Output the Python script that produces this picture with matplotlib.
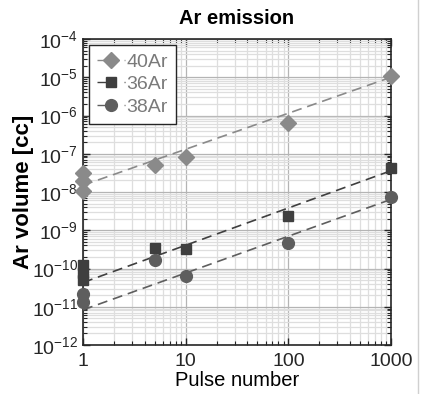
import matplotlib
matplotlib.use("Agg")
import matplotlib.pyplot as plt
from matplotlib.lines import Line2D
from matplotlib.ticker import LogLocator, NullFormatter

plt.rcParams['font.family'] = ['Liberation Sans', 'DejaVu Sans']
plt.rcParams['mathtext.default'] = 'regular'

# Data
pulse_40 = [1, 1, 1, 5, 10, 100, 1000]
vol_40 = [3.1e-8, 1.9e-8, 1.07e-8, 5.1e-8, 8.3e-8, 6.5e-7, 1.1e-5]

pulse_36 = [1, 1, 1, 5, 10, 100, 1000]
vol_36 = [1.2e-10, 7.5e-11, 4.9e-11, 3.5e-10, 3.2e-10, 2.4e-9, 4.2e-8]

pulse_38 = [1, 1, 5, 10, 100, 1000]
vol_38 = [2.2e-11, 1.36e-11, 1.66e-10, 6.3e-11, 4.7e-10, 7.3e-9]

# Fit lines (end points at pulse 1 and 1000)
fit_x = [1, 1000]
fit_40 = [1.5e-8, 1.0e-5]
fit_36 = [4.3e-11, 3.6e-8]
fit_38 = [8.3e-12, 6.4e-9]

x_ticks = [1, 10, 100, 1000]
x_ticklabels = ['1', '10', '100', '1000']
y_exponents = [-12, -11, -10, -9, -8, -7, -6, -5, -4]

labels = ['40Ar', '36Ar', '38Ar']
colors = ['#8a8a8a', '#3f3f3f', '#5e5e5e']

fig = plt.figure(figsize=(4.22, 3.94), dpi=100)
ax = fig.add_axes([83/422, 1-345/394, (391-83)/422, (345-39)/394])

ax.set_xscale('log')
ax.set_yscale('log')
ax.set_xlim(1, 1000)
ax.set_ylim(1e-12, 1e-4)

dash = (0, (6, 3.5))
ax.plot(fit_x, fit_40, ls=dash, color=colors[0], lw=1.2, zorder=3)
ax.plot(fit_x, fit_36, ls=dash, color=colors[1], lw=1.2, zorder=3)
ax.plot(fit_x, fit_38, ls=dash, color=colors[2], lw=1.2, zorder=3)

ax.plot(pulse_40, vol_40, 'D', color=colors[0], ms=8, ls='none', zorder=4, clip_on=False)
ax.plot(pulse_36, vol_36, 's', color=colors[1], ms=7.5, ls='none', zorder=4, clip_on=False)
ax.plot(pulse_38, vol_38, 'o', color=colors[2], ms=8.5, ls='none', zorder=4, clip_on=False)

ax.xaxis.set_minor_locator(LogLocator(base=10, subs=range(2, 10), numticks=10))
ax.yaxis.set_minor_locator(LogLocator(base=10, subs=range(2, 10), numticks=20))
ax.xaxis.set_minor_formatter(NullFormatter())
ax.yaxis.set_minor_formatter(NullFormatter())
ax.set_xticks(x_ticks)
ax.set_xticklabels(x_ticklabels)
ax.set_yticks([10.0 ** e for e in y_exponents])
ax.set_yticklabels(['$10^{%d}$' % e for e in y_exponents])
ax.set_ylim(1e-12, 1e-4)

ax.grid(True, which='major', color='#b4b4b4', lw=0.9)
ax.grid(True, which='minor', color='#dedede', lw=0.9)
ax.set_axisbelow(True)

ax.tick_params(which='both', direction='in', top=True, right=True, labelsize=14, colors='#262626')
ax.tick_params(which='major', length=5, width=1)
ax.tick_params(which='minor', length=3, width=0.8)
ax.tick_params(axis='x', pad=6)
for s in ax.spines.values():
    s.set_color('#262626')
    s.set_linewidth(1.2)

ax.set_title('Ar emission', fontsize=14.5, fontweight='bold', pad=11)
ax.set_xlabel('Pulse number', fontsize=14.5, labelpad=0.5)
ax.set_ylabel('Ar volume [cc]', fontsize=16, fontweight='bold', labelpad=-1.5)

leg_ls = (0, (11, 8.5, 3, 1))
handles = [
    Line2D([], [], color=colors[0], marker='D', ms=8, lw=1, ls=leg_ls),
    Line2D([], [], color=colors[1], marker='s', ms=7.5, lw=1, ls=leg_ls),
    Line2D([], [], color=colors[2], marker='o', ms=8.5, lw=1, ls=leg_ls),
]
leg = ax.legend(handles, labels, loc='upper left', fontsize=14, frameon=True,
                fancybox=False, edgecolor='#262626', framealpha=1,
                handlelength=1.45, handletextpad=0.05, borderpad=0.42,
                labelspacing=0.25, borderaxespad=0.3)
leg.get_frame().set_linewidth(1.0)
for t in leg.get_texts():
    t.set_color('#7a7a7a')

fig.add_artist(Line2D([418/422, 418/422], [0, 1], color='#d0d0d0', lw=1,
                      transform=fig.transFigure))

fig.savefig('out.png', dpi=100)
